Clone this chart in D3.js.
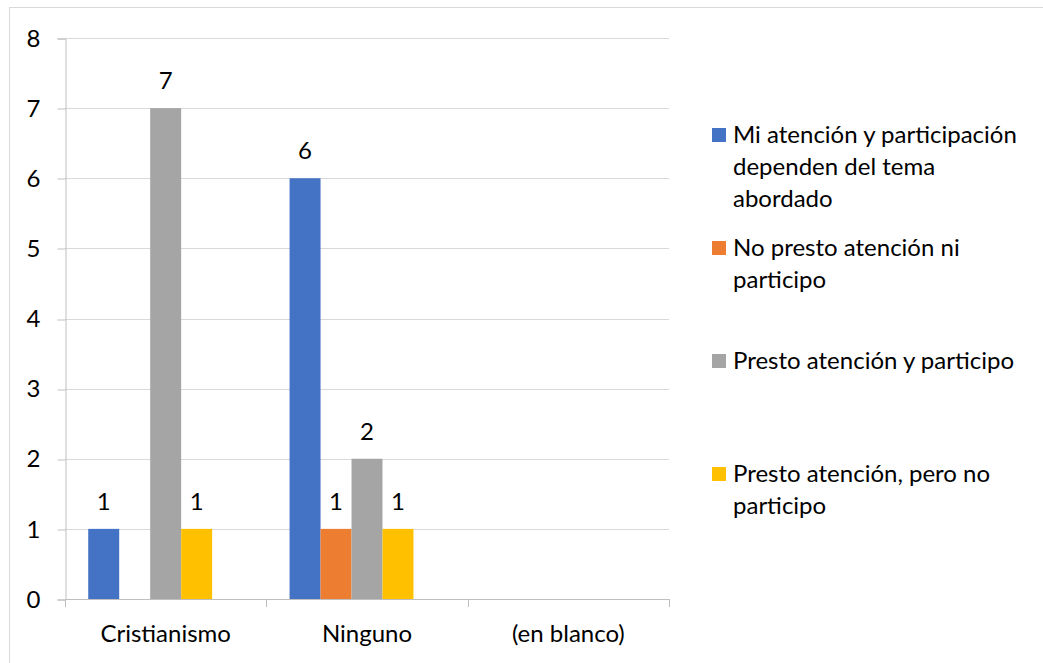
<!DOCTYPE html>
<html>
<head>
<meta charset="utf-8">
<script src="https://cdn.jsdelivr.net/npm/d3@7"></script>
<style>
  html, body { margin: 0; padding: 0; background: #fff; }
  svg text { font-family: Lato, "Open Sans", sans-serif; fill: #000; }
</style>
</head>
<body>
<div id="chart"></div>
<script>
// categories on the x axis
const categories = ["Cristianismo", "Ninguno", "(en blanco)"];

// series (pivot columns); the last one is the empty "(en blanco)" column, not in the legend
const seriesNames = [
  "Mi atención y participación dependen del tema abordado",
  "No presto atención ni participo",
  "Presto atención y participo",
  "Presto atención, pero no participo",
  "(en blanco)"
];
const seriesColors = ["#4472C4", "#ED7D31", "#A5A5A5", "#FFC000", "#5B9BD5"];

// counts per series, one value per category (null = empty cell)
const miAtencion = [1, 6, null];
const noPresto = [null, 1, null];
const prestoYParticipo = [7, 2, null];
const prestoPeroNo = [1, 1, null];
const enBlanco = [null, null, null];

const yTicks = [0, 1, 2, 3, 4, 5, 6, 7, 8];

const width = 1043, height = 663;
const fontSize = 24;
const seriesValues = [miAtencion, noPresto, prestoYParticipo, prestoPeroNo, enBlanco];

const svg = d3.select("#chart").append("svg")
    .attr("width", width)
    .attr("height", height);

// outer chart border (only left and top edges fall inside the picture)
svg.append("rect")
    .attr("x", 9.5).attr("y", 7.5)
    .attr("width", 1100).attr("height", 700)
    .attr("fill", "#fff")
    .attr("stroke", "#d9d9d9");

const plot = {left: 65, right: 669, top: 38, bottom: 599};

const x0 = d3.scaleBand()
    .domain(categories)
    .range([plot.left, plot.right])
    .paddingInner(0).paddingOuter(0);

const x1 = d3.scaleBand()
    .domain(seriesNames)
    .range([0, x0.bandwidth()])
    .paddingInner(0).paddingOuter(0.75);

const y = d3.scaleLinear()
    .domain([0, 8])
    .range([plot.bottom, plot.top]);

// gridlines
svg.append("g")
    .selectAll("line")
    .data(yTicks.filter(d => d > 0))
    .enter().append("line")
    .attr("x1", plot.left).attr("x2", plot.right)
    .attr("y1", d => Math.round(y(d)) + 0.5)
    .attr("y2", d => Math.round(y(d)) + 0.5)
    .attr("stroke", "#d9d9d9")
    .attr("stroke-width", 1);

// y axis
const yAxis = svg.append("g")
    .attr("transform", "translate(" + (plot.left + 0.5) + ",0.5)")
    .call(d3.axisLeft(y).tickValues(yTicks).tickSize(8).tickPadding(17).tickFormat(d3.format("d")));
yAxis.select(".domain").attr("stroke", "#bfbfbf");
yAxis.selectAll(".tick line").attr("stroke", "#bfbfbf")
    .attr("transform", d => "translate(0," + (Math.round(y(d)) - y(d)) + ")");
yAxis.selectAll(".tick text").attr("font-size", fontSize).attr("fill", "#000")
    .style("font-family", "Lato, 'Open Sans', sans-serif");

// bars
const rows = [];
categories.forEach(function (c, ci) {
    seriesNames.forEach(function (s, si) {
        rows.push({cat: c, series: s, si: si, value: seriesValues[si][ci]});
    });
});
const filled = rows.filter(d => d.value !== null && d.value > 0);

svg.append("g")
    .selectAll("rect")
    .data(filled)
    .enter().append("rect")
    .attr("x", d => x0(d.cat) + x1(d.series))
    .attr("y", d => y(d.value))
    .attr("width", x1.bandwidth())
    .attr("height", d => y(0) - y(d.value))
    .attr("fill", d => seriesColors[d.si]);

// data labels
svg.append("g")
    .selectAll("text")
    .data(filled)
    .enter().append("text")
    .attr("x", d => x0(d.cat) + x1(d.series) + x1.bandwidth() / 2)
    .attr("y", d => y(d.value) - 19)
    .attr("text-anchor", "middle")
    .attr("font-size", fontSize)
    .text(d => d.value);

// x axis
const xAxisG = svg.append("g");
xAxisG.append("line")
    .attr("x1", plot.left).attr("x2", plot.right)
    .attr("y1", plot.bottom + 0.5).attr("y2", plot.bottom + 0.5)
    .attr("stroke", "#bfbfbf");
const catEdges = categories.map(c => x0(c)).concat([plot.right]);
xAxisG.selectAll(".tick")
    .data(catEdges)
    .enter().append("line")
    .attr("x1", d => Math.round(d) + 0.5).attr("x2", d => Math.round(d) + 0.5)
    .attr("y1", plot.bottom).attr("y2", plot.bottom + 8)
    .attr("stroke", "#bfbfbf");
xAxisG.selectAll("text")
    .data(categories)
    .enter().append("text")
    .attr("x", d => x0(d) + x0.bandwidth() / 2)
    .attr("y", 642)
    .attr("text-anchor", "middle")
    .attr("font-size", fontSize)
    .text(d => d);

// legend
const legendNames = seriesNames.slice(0, 4);
const legendY = d3.scaleLinear().domain([0, 3]).range([135, 474]);
const legend = svg.append("g").selectAll("g")
    .data(legendNames)
    .enter().append("g")
    .attr("transform", (d, i) => "translate(712," + legendY(i) + ")");

legend.append("rect")
    .attr("x", 0).attr("y", -7)
    .attr("width", 14).attr("height", 14)
    .attr("fill", (d, i) => seriesColors[i]);

legend.append("text")
    .attr("x", 21)
    .attr("y", 8)
    .attr("font-size", fontSize)
    .each(function (d) {
        const t = d3.select(this);
        const words = d.split(" ");
        let line = [];
        let tspan = t.append("tspan").attr("x", 21).attr("dy", 0);
        words.forEach(function (w) {
            line.push(w);
            tspan.text(line.join(" "));
            if (tspan.node().getComputedTextLength() > 300 && line.length > 1) {
                line.pop();
                tspan.text(line.join(" "));
                line = [w];
                tspan = t.append("tspan").attr("x", 21).attr("dy", 32).text(w);
            }
        });
    });
</script>
</body>
</html>
